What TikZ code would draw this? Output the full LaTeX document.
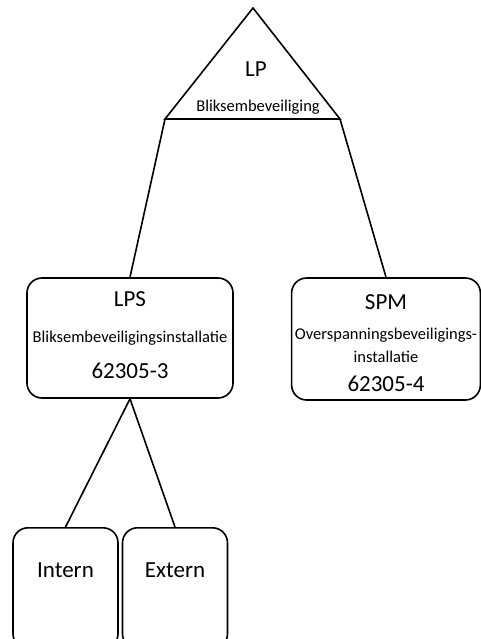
\documentclass[tikz,border=0pt]{standalone}
\usepackage{fontspec}
\setmainfont{Carlito}
\usepackage{tikz}
\newcommand{\grootfont}{\fontsize{23}{28}\selectfont}
\newcommand{\kleinfont}{\fontsize{16.5}{20}\selectfont}
\tikzstyle{lijn} = [line width=1.6pt, black]
\tikzstyle{blok} = [rectangle, rounded corners=15pt, line width=1.6pt, draw=black, align=center, text centered, font=\grootfont]
\tikzstyle{onderblok} = [rectangle, rounded corners=15pt, line width=1.6pt, draw=black, minimum width=105pt, inner ysep=34pt, text height=16pt, text depth=37pt, anchor=north, font=\grootfont]

\begin{document}
\begin{tikzpicture}[x=1pt, y=-1pt]
        \useasboundingbox (0,0) rectangle (481,639);
        % driehoek
        \coordinate (lp-top) at (253,8);
        \coordinate (lp-links) at (165,119);
        \coordinate (lp-rechts) at (340,119);
        \draw [lijn, line join=miter] (lp-top) -- (lp-links) -- (lp-rechts) -- cycle;
        \node (lp) [anchor=base, font=\grootfont] at (256,77) {LP};
        \node (lp-naam) [anchor=base, font=\kleinfont] at (258,112) {Bliksembeveiliging};

        \node (lps) [blok, minimum width=206pt, minimum height=120pt] at (130,338) {LPS\\[8pt]{\kleinfont Bliksembeveiligingsinstallatie}\\[8pt]62305-3\rule[-5pt]{0pt}{5pt}};
        \node (spm) [blok, minimum width=188pt, minimum height=122pt] at (386,339) {\rule{0pt}{24pt}SPM\\[2pt]{\kleinfont Overspanningsbeveiligings-}\\[-5pt]{\kleinfont installatie}\\[1pt]62305-4};

        \node (intern) [onderblok] at (65.5,527) {Intern};
        \node (extern) [onderblok] at (175,527) {Extern};

        \draw [lijn] (lp-links) -- (lps.north);
        \draw [lijn] (lp-rechts) -- (spm.north);
        \draw [lijn] (lps.south) -- (intern.north);
        \draw [lijn] (lps.south) -- (extern.north);
    \end{tikzpicture}
\end{document}
